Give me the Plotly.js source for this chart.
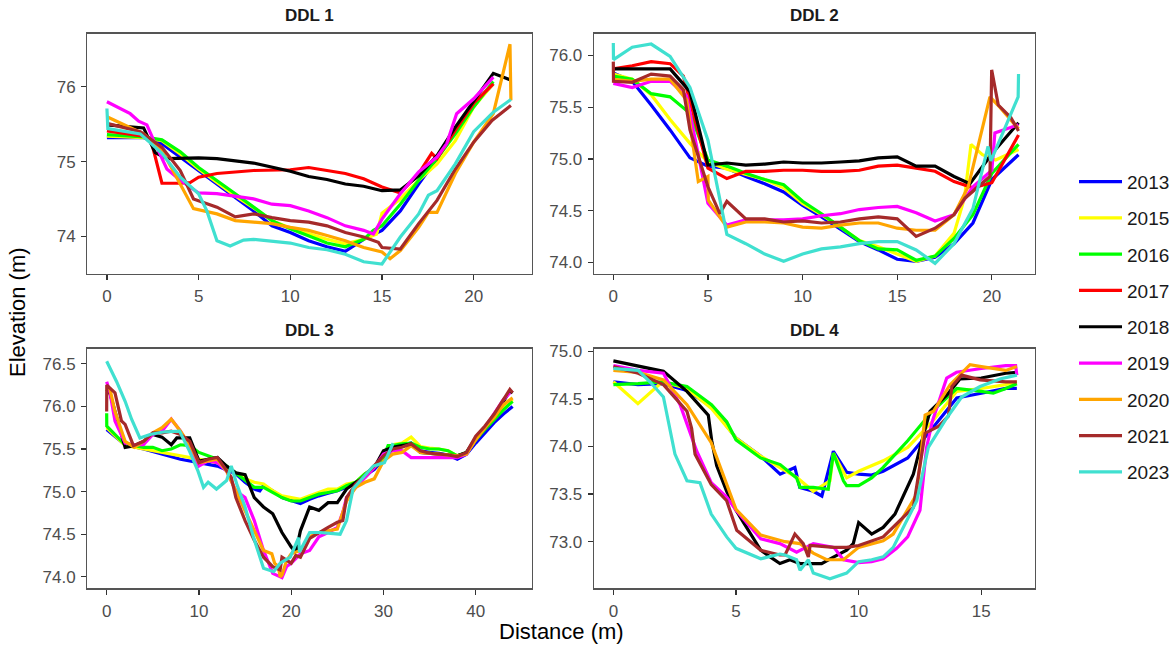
<!DOCTYPE html>
<html>
<head>
<meta charset="utf-8">
<script src="https://cdn.plot.ly/plotly-3.0.1.min.js"></script>
<style>html,body{margin:0;padding:0;background:#fff;}#chart{width:1175px;height:645px;}</style>
</head>
<body>
<div id="chart"></div>
<script>
// ---------- Data ----------
const years = ['2013','2015','2016','2017','2018','2019','2020','2021','2023'];
const yearColors = ['#0000FF','#FFFF00','#00FF00','#FF0000','#000000','#FF00FF','#FFA500','#A52A2A','#40E0D0'];
const panelTitles = ['DDL 1','DDL 2','DDL 3','DDL 4'];

// DDL 1
const d1_2013_x = [0,2,3,4,5,6,7,8,9,10,11,12,13,14,15,16,17,18,19,20,21.07];
const d1_2013_y = [75.32,75.32,75.24,75.06,74.88,74.70,74.52,74.34,74.14,74.05,73.94,73.86,73.80,73.96,74.08,74.34,74.70,75.04,75.42,75.75,76.04];
const d1_2015_x = [0,2,3,4,5,6,7,8,9,10,11,12,13,14,14.71,15,16,17,18,19,20,21.07];
const d1_2015_y = [75.34,75.32,75.28,75.10,74.90,74.72,74.54,74.38,74.21,74.11,74.03,73.96,73.90,73.96,74.03,74.31,74.50,74.75,74.97,75.28,75.73,76.04];
const d1_2016_x = [0,2,3,4,5,6,7,8,9,10,11,12,13,14,14.53,15,16,17,18,19,20,21.07];
const d1_2016_y = [75.36,75.33,75.29,75.13,74.92,74.75,74.57,74.39,74.21,74.10,74.01,73.91,73.86,73.96,74.08,74.14,74.43,74.75,75.04,75.37,75.73,76.07];
const d1_2017_x = [0,2,2.45,3,4,4.54,5,6,8,10,11,12,13,14,15,16,17,17.71,18,19,20,21.07];
const d1_2017_y = [75.41,75.34,75.24,74.71,74.71,74.72,74.79,74.84,74.88,74.89,74.92,74.88,74.84,74.77,74.66,74.58,74.84,75.11,75.04,75.42,75.78,76.04];
const d1_2018_x = [0,2,2.63,3.27,5,6,8,9,10,11,12,13,14,15,16,17,18,19,20,21.07,22.03];
const d1_2018_y = [75.49,75.45,75.12,75.04,75.05,75.04,74.98,74.93,74.87,74.80,74.76,74.70,74.67,74.61,74.62,74.81,75.08,75.46,75.80,76.18,76.09];
const d1_2019_x = [0,1.27,1.73,2.18,2.63,3.27,4,5,6,8,9,10,11,12,13,14,14.53,15,16,17,18,18.53,19.07,20,21.07];
const d1_2019_y = [75.80,75.64,75.54,75.49,75.24,74.90,74.75,74.58,74.57,74.50,74.43,74.41,74.34,74.25,74.14,74.08,74.03,74.23,74.57,74.86,75.06,75.24,75.64,75.84,76.13];
const d1_2020_x = [0,2,3,4,4.72,6,7,8,9,10,11,12,13,14,15,15.44,16,17,17.53,18,19,20,21.07,21.98,22.03];
const d1_2020_y = [75.60,75.37,75.15,74.70,74.37,74.30,74.21,74.19,74.17,74.12,74.08,74.01,73.94,73.85,73.79,73.70,73.81,74.12,74.32,74.32,74.84,75.26,75.64,76.57,75.82];
const d1_2021_x = [0,1.82,3,4,4.72,6,7,8,9,10,11,12,13,14,14.8,15,16,17,18,19,20,21,22.03];
const d1_2021_y = [75.51,75.40,75.19,74.88,74.50,74.39,74.26,74.30,74.25,74.21,74.19,74.14,74.05,73.99,73.92,73.85,73.83,74.17,74.48,74.90,75.26,75.55,75.75];
const d1_2023_x = [0,0.05,1.82,3,4,5,5.45,6,6.72,7.45,8,10,11,12,13,14,15,16,17,17.53,18,19,20,21.07,22.03];
const d1_2023_y = [75.71,75.44,75.37,75.11,74.79,74.57,74.34,73.94,73.87,73.95,73.96,73.91,73.85,73.82,73.76,73.66,73.63,73.99,74.30,74.55,74.61,74.97,75.40,75.66,75.83];

// DDL 2
const d2_2013_x = [0,1,2,3,4.05,5,6,7,8,9,10,11,12,13,14,15,16,17,18,19,20,21.41];
const d2_2013_y = [75.83,75.75,75.52,75.28,75.01,74.93,74.91,74.83,74.76,74.68,74.55,74.44,74.32,74.20,74.12,74.03,74.01,74.05,74.18,74.38,74.80,75.04];
const d2_2015_x = [0,1,2,3,4.05,5,6,7,8,9,10,11,12,13,14,15,16,17,18,18.55,18.9,19.5,20.2,21.41];
const d2_2015_y = [75.82,75.77,75.62,75.38,75.15,74.97,74.90,74.85,74.80,74.72,74.57,74.46,74.34,74.21,74.15,74.08,74.01,74.06,74.28,74.62,75.14,75.04,74.99,75.09];
const d2_2016_x = [0,1,2,3,4.05,5,6,7,8,9,10,11,12,13,14,15,16,17,18,19,20,21.41];
const d2_2016_y = [75.80,75.77,75.63,75.60,75.44,74.99,74.93,74.86,74.80,74.75,74.59,74.47,74.34,74.21,74.13,74.12,74.02,74.06,74.23,74.46,74.86,75.14];
const d2_2017_x = [0,1,2,3,3.70,5,6,7,8,9,10,11,12,13,14,15,16,17,18,19,20,21.41];
const d2_2017_y = [75.87,75.90,75.94,75.92,75.80,74.91,74.81,74.88,74.88,74.89,74.89,74.88,74.88,74.89,74.93,74.94,74.91,74.88,74.78,74.72,74.77,75.23];
const d2_2018_x = [0,1,2,3,4.05,5,6,7,8,9,10,11,12,13,14,15,16,17,18,18.84,20,21.41];
const d2_2018_y = [75.87,75.87,75.87,75.87,75.65,74.94,74.96,74.94,74.95,74.97,74.96,74.96,74.97,74.98,75.01,75.02,74.93,74.93,74.83,74.76,75.05,75.35];
const d2_2019_x = [0,1,2,3,3.87,5,6,7,8,9,10,11,12,13,14,15,16,17,18,19,20,20.16,21.41];
const d2_2019_y = [75.73,75.69,75.75,75.75,75.61,74.57,74.36,74.41,74.41,74.41,74.42,74.45,74.47,74.51,74.53,74.54,74.48,74.40,74.46,74.73,74.89,75.25,75.33];
const d2_2020_x = [0,1,2,3,3.87,4.49,5,5.02,6,7,8,9,10,11,12,13,14,15,16,17,18,18.75,19.9,20.42,21.41];
const d2_2020_y = [75.77,75.75,75.77,75.77,75.57,74.78,74.83,74.60,74.34,74.39,74.39,74.38,74.34,74.33,74.36,74.38,74.38,74.33,74.31,74.31,74.46,74.73,75.60,75.50,75.29];
const d2_2021_x = [0,0.01,1,2,3,3.70,4.05,5,5.63,6,7,8,9,10,11,12,13,14,15,16,17,18,18.58,19.9,19.99,20.34,21,21.41];
const d2_2021_y = [75.94,75.75,75.74,75.82,75.80,75.67,75.28,74.73,74.47,74.59,74.42,74.42,74.39,74.40,74.38,74.39,74.42,74.44,74.42,74.25,74.33,74.46,74.62,74.83,75.86,75.52,75.40,75.27];
const d2_2023_x = [0,0.01,1,2,3,4.05,5,6,7,8,9,10,11,12,13,14,15,16,17,18,19,19.8,19.95,20.8,21.39,21.41];
const d2_2023_y = [76.12,75.96,76.08,76.11,75.99,75.69,75.18,74.27,74.18,74.08,74.01,74.08,74.13,74.15,74.18,74.20,74.20,74.12,73.99,74.18,74.52,75.12,74.98,75.35,75.60,75.82];

// DDL 3
const d3_2013_x = [0,2,4,6,8,10,12,14,15,16,16.6,17,18,19,20,21,22,23,24,25,26,27,28,29,30,31,32,33,34,35,36,37,38,39,40,41,42,43,44];
const d3_2013_y = [75.73,75.55,75.50,75.44,75.38,75.34,75.30,75.21,75.11,75.03,75.01,75.07,75.01,74.93,74.89,74.86,74.91,74.95,74.98,75.01,75.05,75.11,75.19,75.26,75.38,75.50,75.54,75.57,75.48,75.46,75.45,75.43,75.38,75.44,75.57,75.69,75.81,75.91,76.00];
const d3_2015_x = [0,2,4,6,8,10,12,14,15,16,17,18,19,20,21,22,23,24,25,26,27,28,29,30,31,32,33,34,35,36,37,38,39,40,41,42,43,44];
const d3_2015_y = [75.75,75.54,75.50,75.46,75.42,75.38,75.34,75.22,75.15,75.11,75.09,75.01,74.95,74.93,74.91,74.95,74.99,75.03,75.03,75.09,75.11,75.21,75.28,75.42,75.55,75.57,75.64,75.53,75.51,75.50,75.48,75.42,75.45,75.61,75.75,75.87,76.00,76.08];
const d3_2016_x = [0,0.01,2,3,4,5,6,7,8,9,10,11,12,13,14,15,16,17,18,19,20,21,22,23,24,25,26,27,28,29,30,30.5,31,32,33,34,35,36,37,38,39,40,41,42,43,44];
const d3_2016_y = [75.92,75.77,75.55,75.54,75.52,75.52,75.48,75.50,75.55,75.54,75.46,75.42,75.38,75.30,75.22,75.13,75.05,75.05,74.99,74.93,74.89,74.89,74.93,74.97,74.99,75.01,75.07,75.11,75.21,75.28,75.40,75.54,75.54,75.56,75.57,75.52,75.50,75.50,75.48,75.42,75.46,75.61,75.73,75.85,75.96,76.06];
const d3_2018_x = [0,0.36,0.9,2,3,4,5,6,7,7.6,8,9,10,11,12,13,14,15,16,17,18,19,20,20.5,21,22,23,24,25,26,27,28,29,30,31,32,33,34,35,36,37,38,39,40,41,42,43,43.7,44];
const d3_2018_y = [76.20,76.15,75.94,75.52,75.54,75.59,75.67,75.64,75.55,75.63,75.63,75.63,75.36,75.38,75.40,75.30,75.22,75.20,74.93,74.82,74.74,74.52,74.35,74.29,74.54,74.82,74.78,74.87,74.87,75.03,75.11,75.17,75.28,75.48,75.52,75.54,75.56,75.46,75.45,75.44,75.43,75.42,75.46,75.63,75.75,75.88,76.06,76.18,76.16];
const d3_2019_x = [0,0.36,0.9,2,3,4,5,6,7,8,9,10,11,12,13,14,15,16,17,18,19,19.5,20,21,22,23,24,25,25.6,26,27,28,29,30,31,32,33,34,35,36,37,38,39,40,41,42,43,43.7];
const d3_2019_y = [76.29,76.16,75.83,75.57,75.55,75.55,75.67,75.71,75.85,75.71,75.51,75.30,75.36,75.34,75.24,75.01,74.93,74.66,74.31,74.04,73.99,74.12,74.16,74.27,74.31,74.47,74.52,74.58,74.76,74.93,75.05,75.17,75.28,75.44,75.48,75.48,75.40,75.40,75.40,75.40,75.40,75.40,75.44,75.63,75.75,75.91,76.08,76.16];
const d3_2020_x = [0,0.36,0.9,2,3,4,5,6,7,8,9,10,11,12,13,14,15,16,17,17.9,18.2,18.6,18.8,19,19.5,20,21,22,23,24,25,26,27,28,29,30,31,32,33,34,35,36,37,38,39,40,41,42,43,44];
const d3_2020_y = [76.24,76.20,75.94,75.59,75.52,75.59,75.69,75.75,75.85,75.71,75.55,75.34,75.36,75.38,75.24,75.01,74.78,74.55,74.31,74.27,74.16,74.12,74.00,74.02,74.19,74.27,74.31,74.47,74.52,74.54,74.56,74.89,75.05,75.11,75.15,75.36,75.44,75.46,75.54,75.46,75.45,75.44,75.43,75.42,75.44,75.61,75.75,75.87,76.02,76.10];
const d3_2021_x = [0,0.01,0.9,1.6,2,2.9,4,5,6,7,8,9,10,11,12,13,13.5,14,15,16,17,18,18.8,19,19.5,20,20.5,21,22,23,24,25,25.6,26,27,28,29,30,31,32,33,34,35,36,37,38,39,40,41,42,43,43.7,44];
const d3_2021_y = [75.94,76.25,76.16,75.83,75.79,75.54,75.59,75.69,75.69,75.71,75.67,75.59,75.34,75.38,75.40,75.24,75.17,74.93,74.66,74.43,74.23,74.12,74.08,74.23,74.19,74.16,74.25,74.23,74.45,74.52,74.58,74.64,74.66,74.93,75.09,75.19,75.30,75.42,75.50,75.52,75.56,75.48,75.45,75.44,75.43,75.41,75.46,75.65,75.77,75.91,76.08,76.20,76.16];
const d3_2023_x = [0,0.18,1.08,2,2.7,3.6,4.7,6.1,7.9,9.0,9.9,10.5,11,11.9,13,13.5,14.1,15,15.9,17,18.1,18.8,19.9,20.8,20.9,22,23.1,25.3,26,26.7,28.9,30.1,31,31.05];
const d3_2023_y = [76.53,76.49,76.29,76.06,75.85,75.63,75.67,75.70,75.71,75.47,75.24,75.05,75.11,75.03,75.13,75.30,75.09,74.82,74.47,74.10,74.06,74.16,74.23,74.46,74.29,74.52,74.52,74.50,74.66,75.03,75.30,75.34,75.55,75.57];

// DDL 4
const d4_2013_x = [0,1,2,3,4,5,6,6.8,7.4,7.6,8.15,8.5,8.97,9.51,10,10.53,11,12,13,14,15,16,16.45];
const d4_2013_y = [74.68,74.65,74.66,74.59,74.42,74.09,73.90,73.71,73.78,73.57,73.53,73.48,73.95,73.73,73.71,73.70,73.74,73.88,74.19,74.51,74.56,74.61,74.61];
const d4_2015_x = [0,1,2,3,4,5,6,6.8,7.5,8.15,8.83,8.97,9.51,10,11,12,13,14,15,16,16.45];
const d4_2015_y = [74.68,74.45,74.68,74.61,74.40,74.09,73.90,73.78,73.67,73.53,73.64,73.93,73.67,73.74,73.85,73.99,74.26,74.58,74.61,74.65,74.68];
const d4_2016_x = [0,1,2,3,4,4.62,5,6,6.8,7.47,7.61,8.15,8.76,8.97,9.38,9.51,10,10.53,11,12,13,14,15,15.49,16,16.45];
const d4_2016_y = [74.65,74.66,74.68,74.63,74.44,74.26,74.07,73.88,73.81,73.67,73.57,73.57,73.55,73.93,73.64,73.59,73.59,73.67,73.78,74.06,74.37,74.61,74.58,74.56,74.61,74.66];
const d4_2018_x = [0,2.04,3,3.87,4.01,4.21,4.62,5,5.43,6.01,6.39,6.79,7.2,7.61,8.0,8.49,8.99,9.51,9.78,10,10.53,11,11.48,12.23,12.64,12.91,13.59,14.13,15,16,16.45];
const d4_2018_y = [74.90,74.79,74.58,74.33,74.06,73.80,73.53,73.33,73.15,72.91,72.84,72.77,72.81,72.77,72.77,72.77,72.84,72.91,72.98,73.20,73.08,73.15,73.29,73.71,74.12,74.37,74.54,74.71,74.72,74.77,74.78];
const d4_2019_x = [0,1.01,2.04,2.72,3.40,3.99,4.62,5,6.01,6.79,7.47,8.15,8.99,9.38,10,10.53,11,11.55,12,12.5,12.77,13,13.59,13.99,15,16,16.4,16.45];
const d4_2019_y = [74.85,74.80,74.77,74.44,73.95,73.62,73.47,73.33,73.03,72.98,72.89,72.98,72.94,72.81,72.78,72.79,72.82,72.93,73.05,73.33,73.99,74.26,74.72,74.78,74.82,74.85,74.85,74.75];
const d4_2020_x = [0,1.01,2.04,3,3.99,5,6.01,7,7.61,8.15,8.70,9.38,10,11,11.41,12.37,12.71,13.05,13.73,14.54,15,16,16.45];
const d4_2020_y = [74.80,74.78,74.70,74.44,74.04,73.34,73.07,73.00,72.98,72.88,72.81,72.81,72.94,73.01,73.08,73.50,74.33,74.37,74.65,74.86,74.84,74.80,74.84];
const d4_2021_x = [0,1.01,2.04,3,3.19,3.33,3.99,4.62,5.03,6.01,6.79,7.0,7.4,7.74,7.95,8.02,8.99,9.51,10,11,12.23,12.71,13.25,13.66,13.8,14.2,14.95,16,16.45];
const d4_2021_y = [74.84,74.77,74.65,74.37,74.19,73.92,73.60,73.43,73.12,72.91,72.86,72.86,73.08,72.98,72.84,72.96,72.94,72.94,72.96,73.05,73.36,74.14,74.21,74.32,74.63,74.75,74.70,74.68,74.68];
const d4_2023_x = [0,1.01,1.49,2.04,2.51,3,3.53,3.99,4.62,5,6.01,6.79,7.0,7.47,7.61,7.95,8.15,8.83,9.51,10,10.53,11,11.41,12.37,12.84,13.59,14.2,14.95,15.76,16.45];
const d4_2023_y = [74.82,74.80,74.68,74.52,73.92,73.64,73.62,73.29,73.05,72.93,72.82,72.87,72.86,72.81,72.70,72.81,72.67,72.61,72.67,72.79,72.81,72.84,72.94,73.43,73.99,74.30,74.52,74.63,74.71,74.75];

// Axis settings per panel
const xRanges = [[-1.07,23.18],[-1.02,22.28],[-2.1,46.1],[-0.79,17.19]];
const yRanges = [[73.5,76.71],[73.89,76.21],[73.865,76.68],[72.51,75.03]];
const xDticks = [5,5,10,5];
const yDticks = [1,0.5,0.5,0.5];
const yFormats = ['d','.1f','.1f','.1f'];

// ---------- Build ----------
const panels = [
  {'2013':[d1_2013_x,d1_2013_y],'2015':[d1_2015_x,d1_2015_y],'2016':[d1_2016_x,d1_2016_y],'2017':[d1_2017_x,d1_2017_y],'2018':[d1_2018_x,d1_2018_y],'2019':[d1_2019_x,d1_2019_y],'2020':[d1_2020_x,d1_2020_y],'2021':[d1_2021_x,d1_2021_y],'2023':[d1_2023_x,d1_2023_y]},
  {'2013':[d2_2013_x,d2_2013_y],'2015':[d2_2015_x,d2_2015_y],'2016':[d2_2016_x,d2_2016_y],'2017':[d2_2017_x,d2_2017_y],'2018':[d2_2018_x,d2_2018_y],'2019':[d2_2019_x,d2_2019_y],'2020':[d2_2020_x,d2_2020_y],'2021':[d2_2021_x,d2_2021_y],'2023':[d2_2023_x,d2_2023_y]},
  {'2013':[d3_2013_x,d3_2013_y],'2015':[d3_2015_x,d3_2015_y],'2016':[d3_2016_x,d3_2016_y],'2018':[d3_2018_x,d3_2018_y],'2019':[d3_2019_x,d3_2019_y],'2020':[d3_2020_x,d3_2020_y],'2021':[d3_2021_x,d3_2021_y],'2023':[d3_2023_x,d3_2023_y]},
  {'2013':[d4_2013_x,d4_2013_y],'2015':[d4_2015_x,d4_2015_y],'2016':[d4_2016_x,d4_2016_y],'2018':[d4_2018_x,d4_2018_y],'2019':[d4_2019_x,d4_2019_y],'2020':[d4_2020_x,d4_2020_y],'2021':[d4_2021_x,d4_2021_y],'2023':[d4_2023_x,d4_2023_y]}
];

const W = 1175, H = 645;
// panel frames in pixels [left, right, top, bottom]
const frames = [[87.3,532,33.7,273.7],[594,1035,33.7,273.7],[87.3,532,348.5,588.3],[594,1035,348.5,588.3]];

const traces = [];
panels.forEach((p, i) => {
  const ax = i === 0 ? '' : String(i + 1);
  years.forEach((yr, k) => {
    if (!p[yr]) return;
    traces.push({
      type: 'scatter', mode: 'lines',
      x: p[yr][0], y: p[yr][1],
      xaxis: 'x' + ax, yaxis: 'y' + ax,
      name: yr, legendgroup: yr,
      showlegend: i === 0,
      line: {color: yearColors[k], width: 3.2},
      hoverinfo: 'skip'
    });
  });
});

const font = 'Liberation Sans, Arial, sans-serif';
const layout = {
  width: W, height: H,
  margin: {l: 0, r: 0, t: 0, b: 0},
  paper_bgcolor: '#fff', plot_bgcolor: '#fff',
  font: {family: font, color: '#4D4D4D'},
  showlegend: true,
  legend: {
    x: 1074/W, y: 1 - 162.7/H, xanchor: 'left', yanchor: 'top',
    font: {family: font, size: 19, color: '#1a1a1a'},
    traceorder: 'grouped', tracegroupgap: 8.6,
    itemwidth: 43, bgcolor: 'rgba(0,0,0,0)'
  },
  annotations: [],
  shapes: []
};

frames.forEach((f, i) => {
  const ax = i === 0 ? '' : String(i + 1);
  const xa = 'xaxis' + ax, ya = 'yaxis' + ax;
  const common = {
    showgrid: false, zeroline: false, showline: true, mirror: true,
    linecolor: '#555555', linewidth: 1.3,
    ticks: 'outside', ticklen: 5, tickwidth: 1.3, tickcolor: '#333333',
    tickfont: {family: font, size: 17, color: '#4D4D4D'},
    fixedrange: true
  };
  layout[xa] = Object.assign({}, common, {
    domain: [f[0]/W, f[1]/W], range: xRanges[i], dtick: xDticks[i], tick0: 0,
    anchor: 'y' + ax, ticklabelstandoff: 2
  });
  layout[ya] = Object.assign({}, common, {
    domain: [1 - f[3]/H, 1 - f[2]/H], range: yRanges[i], dtick: yDticks[i], tick0: 0,
    tickformat: yFormats[i], anchor: 'x' + ax, ticklabelstandoff: 2
  });
  layout.annotations.push({
    text: '<b>' + panelTitles[i] + '</b>', xref: 'paper', yref: 'paper',
    x: (f[0] + f[1]) / 2 / W, y: 1 - (f[2] - 7) / H, xanchor: 'center', yanchor: 'bottom',
    showarrow: false, font: {family: font, size: 17, color: '#1a1a1a'}
  });
});

layout.annotations.push({
  text: 'Distance (m)', xref: 'paper', yref: 'paper', x: 561/W, y: 1 - 631/H,
  xanchor: 'center', yanchor: 'middle', showarrow: false,
  font: {family: font, size: 22, color: '#000'}
});
layout.annotations.push({
  text: 'Elevation (m)', xref: 'paper', yref: 'paper', x: 17/W, y: 1 - 312/H,
  xanchor: 'center', yanchor: 'middle', textangle: -90, showarrow: false,
  font: {family: font, size: 22, color: '#000'}
});

Plotly.newPlot('chart', traces, layout, {displayModeBar: false, staticPlot: true});
</script>
</body>
</html>
